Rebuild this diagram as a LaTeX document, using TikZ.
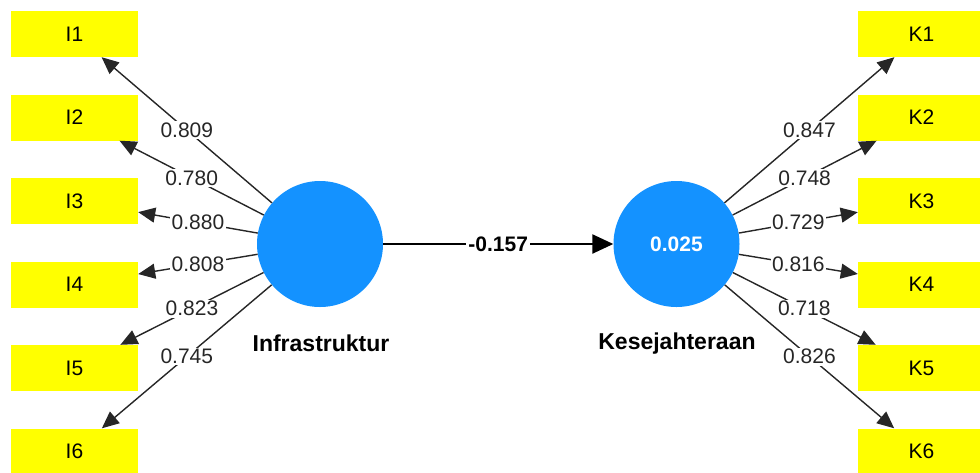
\documentclass[tikz,border=0pt]{standalone}
\usepackage{fontspec}
\setmainfont{Liberation Sans}
\usetikzlibrary{arrows.meta}
\definecolor{itemyellow}{RGB}{255,255,0}
\definecolor{lvblue}{RGB}{20,146,255}
\tikzset{
  indicator/.style={rectangle, fill=itemyellow, minimum width=127pt, minimum height=46pt, inner sep=0pt,
    font=\fontsize{21}{24}\selectfont},
  latent/.style={circle, fill=lvblue, minimum size=126pt, inner sep=0pt,
    font=\fontsize{21}{24}\selectfont\bfseries, text=white},
  lvname/.style={font=\fontsize{23}{26}\selectfont\bfseries},
  loading/.style={draw=black!85, line width=1.4pt, -{Triangle[length=17pt,width=15pt]}},
  lab/.style={fill=white, inner sep=1.5pt, font=\fontsize{21}{24}\selectfont, text=black!85},
  pathlab/.style={fill=white, inner sep=2pt, font=\fontsize{21}{24}\selectfont\bfseries},
}
\begin{document}
\begin{tikzpicture}[x=1pt, y=-1pt]
\useasboundingbox (0,0) rectangle (980,472);
\clip (0,0) rectangle (980,472);

% latent variables
\node[latent] (inf) at (320,244) {};
\node[latent] (kes) at (676.5,244) {0.025};
\node[lvname] (infname) at (321,343) {Infrastruktur};
\node[lvname] (kesname) at (677,344) {Kesejahteraan};

% indicators of Infrastruktur
\node[indicator] (i1) at (74.5,34) {I1};
\node[indicator] (i2) at (74.5,117.5) {I2};
\node[indicator] (i3) at (74.5,201) {I3};
\node[indicator] (i4) at (74.5,284.5) {I4};
\node[indicator] (i5) at (74.5,368) {I5};
\node[indicator] (i6) at (74.5,451.5) {I6};

% indicators of Kesejahteraan
\node[indicator] (k1) at (921.5,34) {K1};
\node[indicator] (k2) at (921.5,117.5) {K2};
\node[indicator] (k3) at (921.5,201) {K3};
\node[indicator] (k4) at (921.5,284.5) {K4};
\node[indicator] (k5) at (921.5,368) {K5};
\node[indicator] (k6) at (921.5,451.5) {K6};

% outer loadings
\draw[loading] (inf) -- node[lab] {0.809} (i1);
\draw[loading] (inf) -- node[lab] {0.780} (i2);
\draw[loading] (inf) -- node[lab] {0.880} (i3);
\draw[loading] (inf) -- node[lab] {0.808} (i4);
\draw[loading] (inf) -- node[lab] {0.823} (i5);
\draw[loading] (inf) -- node[lab] {0.745} (i6);

\draw[loading] (kes) -- node[lab] {0.847} (k1);
\draw[loading] (kes) -- node[lab] {0.748} (k2);
\draw[loading] (kes) -- node[lab] {0.729} (k3);
\draw[loading] (kes) -- node[lab] {0.816} (k4);
\draw[loading] (kes) -- node[lab] {0.718} (k5);
\draw[loading] (kes) -- node[lab] {0.826} (k6);

% structural path
\draw[line width=2.4pt, -{Triangle[length=21pt,width=19pt]}] (inf) -- node[pathlab] {-0.157} (kes);
\end{tikzpicture}
\end{document}
